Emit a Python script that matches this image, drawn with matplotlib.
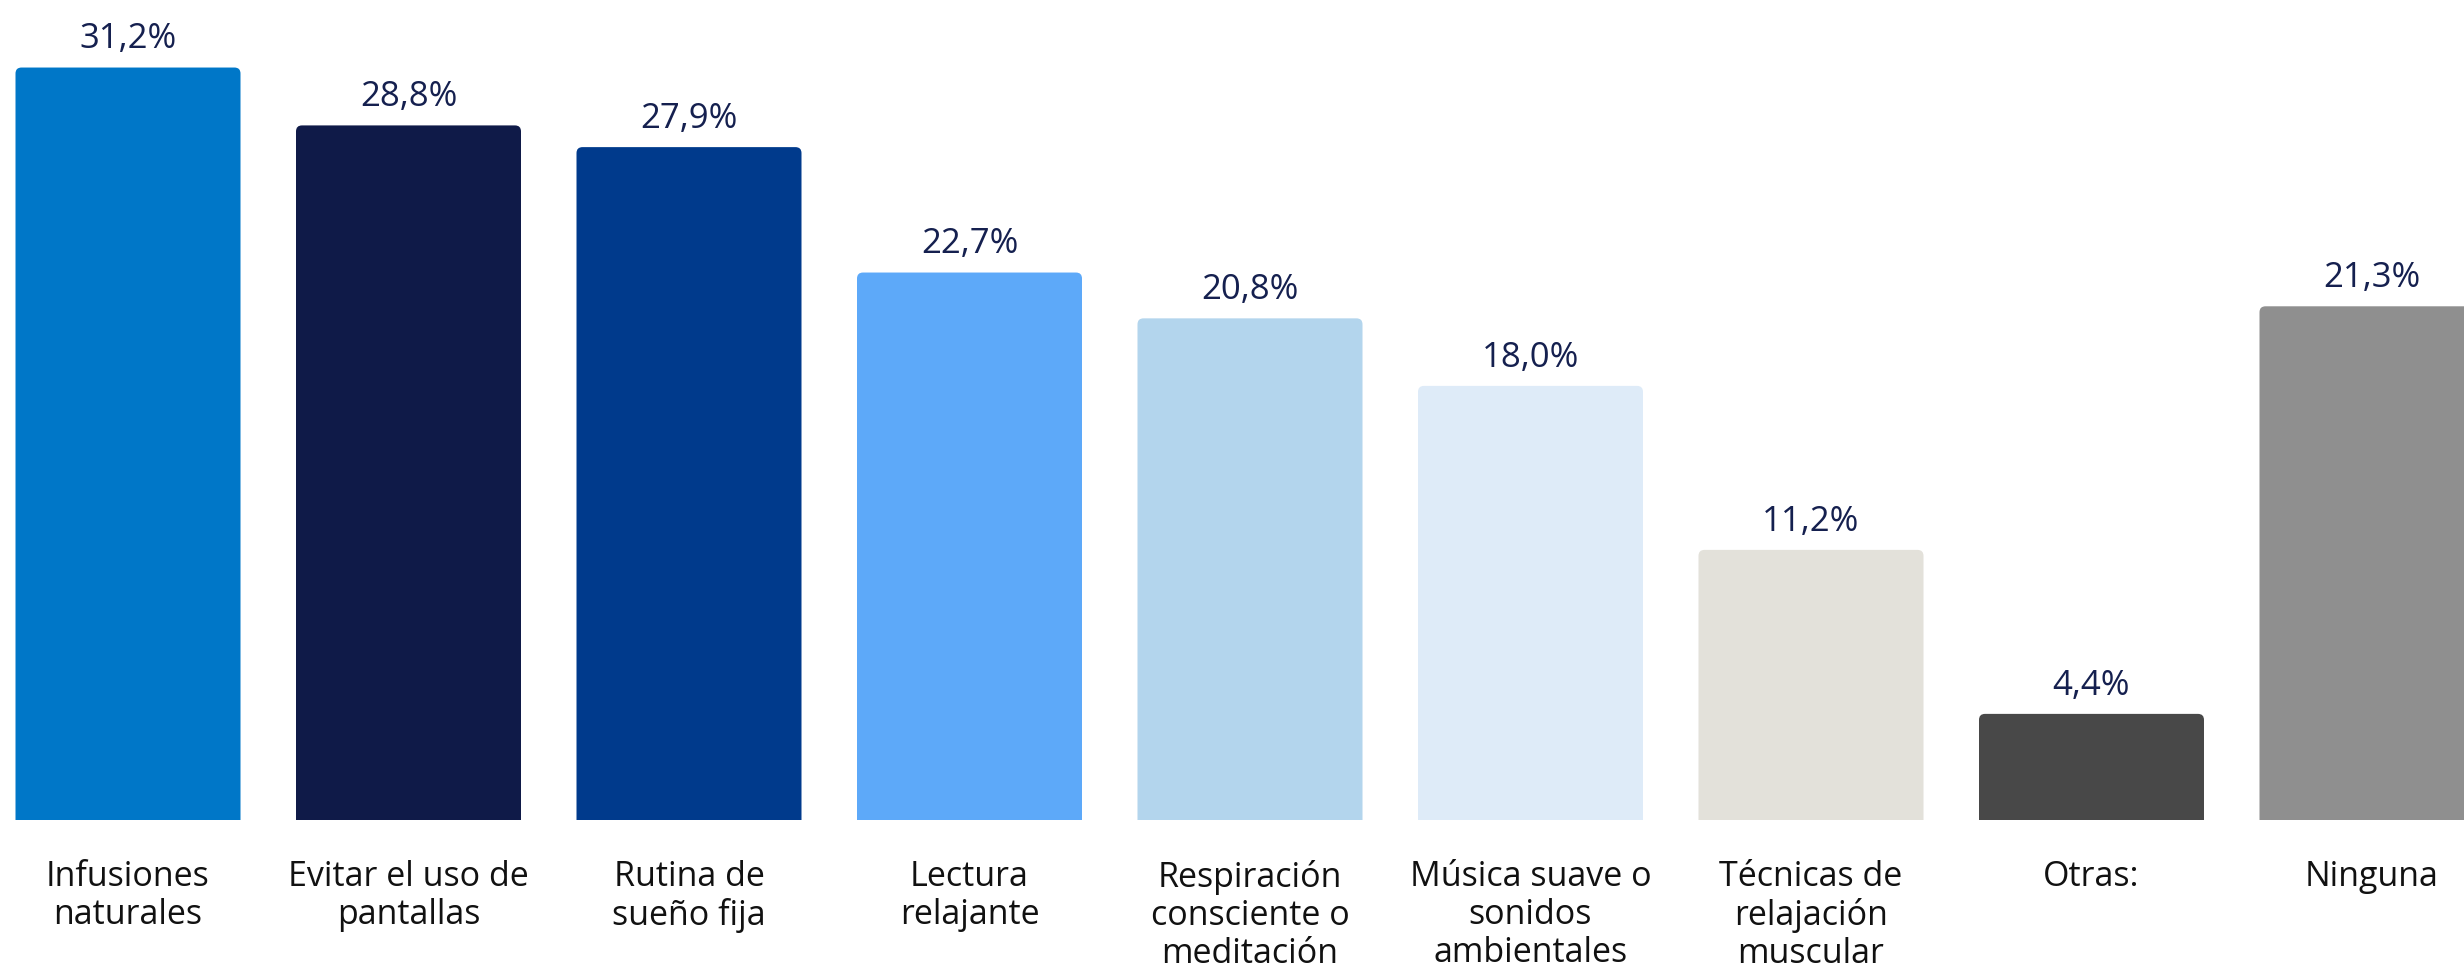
import matplotlib
matplotlib.use("Agg")
import matplotlib.pyplot as plt
from matplotlib.patches import FancyBboxPatch

categories = [
    "Infusiones\nnaturales",
    "Evitar el uso de\npantallas",
    "Rutina de\nsueño fija",
    "Lectura\nrelajante",
    "Respiración\nconsciente o\nmeditación",
    "Música suave o\nsonidos\nambientales",
    "Técnicas de\nrelajación\nmuscular",
    "Otras:",
    "Ninguna",
]
values = [31.2, 28.8, 27.9, 22.7, 20.8, 18.0, 11.2, 4.4, 21.3]
bar_colors = ["#0077c8", "#0f1a48", "#003a8c", "#5da9f9", "#b3d5ed",
              "#deebf8", "#e3e1da", "#484848", "#8f8f8f"]

plt.rcParams['font.family'] = ['Open Sans', 'DejaVu Sans']

W, H = 2464, 964
fig = plt.figure(figsize=(W / 100, H / 100), dpi=100)
ax = fig.add_axes([0, 144 / H, 1, 820 / H])

pitch = 280.5
x0 = 128 / pitch
ax.set_xlim(-x0, (W - 128) / pitch)
ax.set_ylim(0, 34.0)
ax.axis("off")

width = 225 / pitch
xs = list(range(len(values)))
bars = ax.bar(xs, values, width=width, color=bar_colors)

# swap plain rectangles for ones with rounded tops (bottom gets clipped away)
r_px = 6
rx = r_px / pitch
ry = r_px * 34.0 / 820
for b in bars:
    b.set_visible(False)
    p = FancyBboxPatch((b.get_x(), -2), b.get_width(), b.get_height() + 2,
                       boxstyle=f"round,pad=0,rounding_size={rx}",
                       mutation_aspect=ry / rx,
                       facecolor=b.get_facecolor(), edgecolor="none")
    ax.add_patch(p)

for x, v in zip(xs, values):
    ax.annotate(f"{v:.1f}%".replace(".", ","), (x, v), xytext=(0, 8),
                textcoords="offset points", ha="center", va="bottom",
                fontsize=25, color="#15204f")

for x, c in zip(xs, categories):
    ax.annotate(c, (x, 0), xytext=(0, -29), textcoords="offset points",
                ha="center", va="top", fontsize=24.5, color="#111111",
                linespacing=1.14, annotation_clip=False)

fig.savefig("out.png", dpi=100)
